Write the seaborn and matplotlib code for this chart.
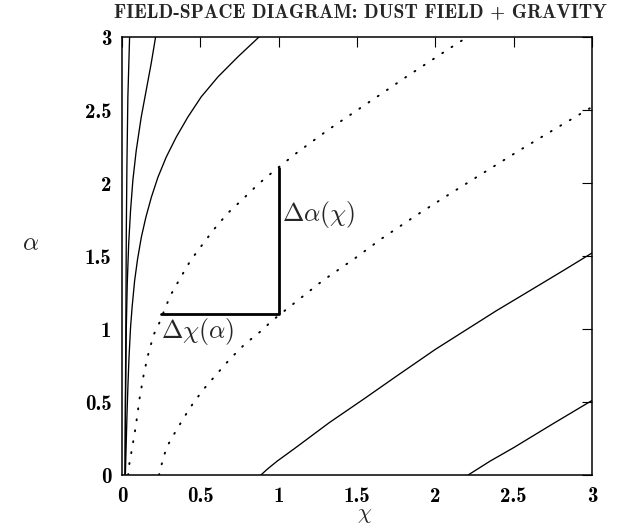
import matplotlib
matplotlib.use("Agg")
import matplotlib.pyplot as plt
import seaborn as sns

# solid trajectories near the alpha axis (chi, alpha)
curve_a_chi = [0.020, 0.022, 0.025, 0.028, 0.032, 0.038, 0.049]
curve_a_alpha = [0.0, 0.5, 1.0, 1.67, 2.13, 2.59, 3.0]

curve_b_chi = [0.020, 0.023, 0.028, 0.034, 0.043, 0.055, 0.070, 0.091,
               0.123, 0.155, 0.187, 0.215]
curve_b_alpha = [0.0, 0.5, 1.01, 1.31, 1.58, 1.81, 2.02, 2.22,
                 2.45, 2.635, 2.82, 3.0]

curve_c_chi = [0.022, 0.027, 0.032, 0.038, 0.045, 0.055, 0.065, 0.081, 0.100,
               0.124, 0.153, 0.188, 0.230, 0.283, 0.347, 0.421, 0.506,
               0.613, 0.740, 0.875]
curve_c_alpha = [0.0, 0.2, 0.4, 0.6, 0.8, 1.01, 1.15, 1.33, 1.48,
                 1.629, 1.766, 1.903, 2.04, 2.178, 2.315, 2.452, 2.59,
                 2.727, 2.864, 3.0]

# solid trajectories lower right
curve_d_chi = [0.887, 0.930, 0.992, 1.10, 1.324, 1.55, 1.75, 2.0, 2.39, 2.60, 2.817, 3.0]
curve_d_alpha = [0.0, 0.042, 0.096, 0.18, 0.359, 0.525, 0.675, 0.86, 1.125, 1.26, 1.40, 1.52]

curve_e_chi = [2.21, 2.35, 2.50, 2.75, 3.0]
curve_e_alpha = [0.0, 0.095, 0.187, 0.35, 0.51]

# dotted curves
dot1_chi = [0.040, 0.045, 0.066, 0.088, 0.112, 0.141, 0.173, 0.205, 0.240, 0.287,
            0.315, 0.375, 0.438, 0.517, 0.590, 0.676, 0.772, 0.868, 0.962, 1.12,
            1.324, 1.655, 1.815, 1.975, 2.156, 2.21]
dot1_alpha = [0.0, 0.062, 0.19, 0.33, 0.52, 0.70, 0.85, 0.966, 1.045, 1.172,
              1.24, 1.354, 1.469, 1.583, 1.686, 1.794, 1.89, 1.99, 2.075, 2.21,
              2.37, 2.61, 2.727, 2.84, 2.967, 3.0]

dot2_chi = [0.237, 0.25, 0.285, 0.349, 0.434, 0.519, 0.604, 0.689, 0.785, 0.881,
            0.962, 1.068, 1.28, 1.495, 1.655, 1.878, 2.10, 2.316, 2.54, 2.764, 3.0]
dot2_alpha = [0.0, 0.06, 0.19, 0.31, 0.46, 0.585, 0.69, 0.794, 0.897, 0.98,
              1.06, 1.15, 1.33, 1.49, 1.617, 1.778, 1.93, 2.075, 2.225, 2.37, 2.52]

# increments bracket
bracket_chi = [0.25, 1.0, 1.0]
bracket_alpha = [1.105, 1.105, 2.1]

ticks = [0, 0.5, 1, 1.5, 2, 2.5, 3]
tick_labels = ["0", "0.5", "1", "1.5", "2", "2.5", "3"]

sns.set_theme(style="white")
plt.rcParams["mathtext.fontset"] = "cm"

fig = plt.figure(figsize=(6.35, 5.29), dpi=100)
ax = fig.add_axes([0.192, 0.102, 0.740, 0.828])

solid = dict(color="black", lw=0.95, sort=False, estimator=None)
for cx, cy in [(curve_a_chi, curve_a_alpha), (curve_b_chi, curve_b_alpha),
               (curve_c_chi, curve_c_alpha), (curve_d_chi, curve_d_alpha),
               (curve_e_chi, curve_e_alpha)]:
    sns.lineplot(x=cx, y=cy, ax=ax, **solid)

dotted = dict(color="black", lw=1.4, sort=False, estimator=None,
              linestyle=(0, (0.5, 5.2)), dash_capstyle="round")
sns.lineplot(x=dot1_chi, y=dot1_alpha, ax=ax, **dotted)
sns.lineplot(x=dot2_chi, y=dot2_alpha, ax=ax, **dotted)

sns.lineplot(x=bracket_chi, y=bracket_alpha, ax=ax, color="black", lw=2.0,
             sort=False, estimator=None)

ax.text(1.02, 1.785, r"$\Delta\alpha(\chi)$", fontsize=18.5, va="center", ha="left")
ax.text(0.25, 0.985, r"$\Delta\chi(\alpha)$", fontsize=18.5, va="center", ha="left")

ax.set_xlim(0, 3)
ax.set_ylim(0, 3)
ax.set_xticks(ticks)
ax.set_yticks(ticks)
ax.set_xticklabels(tick_labels, family="cmb10", fontsize=15)
ax.set_yticklabels(tick_labels, family="cmb10", fontsize=15)
ax.tick_params(direction="in", length=7, width=0.8, top=True, right=True,
               colors="black")
ax.tick_params(axis="x", pad=8.5)
ax.tick_params(axis="y", pad=7.5)
for s in ax.spines.values():
    s.set_color("black")
    s.set_linewidth(1.1)

fig.text(0.956, 1 - 12 / 529, "FIELD-SPACE DIAGRAM: DUST FIELD + GRAVITY",
         family="cmb10", fontsize=14, ha="right", va="center")
fig.text(31 / 635, 1 - 243 / 529, r"$\alpha$", fontsize=18, ha="center", va="center")
fig.text(365 / 635, 1 - 515 / 529, r"$\chi$", fontsize=16, ha="center", va="center")

fig.savefig("out.png", dpi=100)
